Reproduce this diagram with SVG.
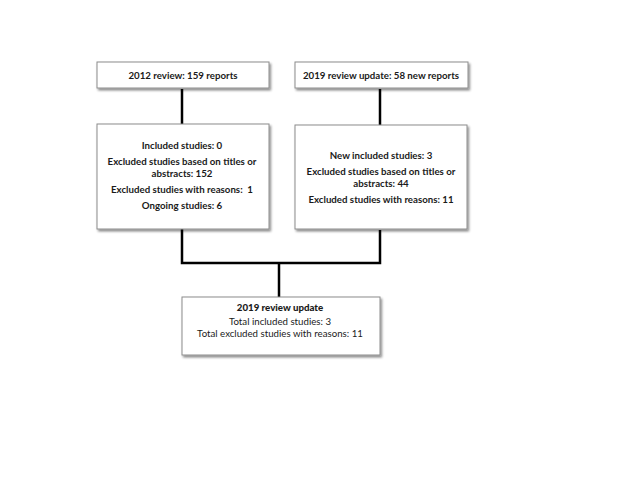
<svg xmlns="http://www.w3.org/2000/svg" width="640" height="480" viewBox="0 0 640 480">
<defs>
<filter id="sh" x="-10%" y="-10%" width="130%" height="140%">
<feDropShadow dx="1.5" dy="2" stdDeviation="1" flood-color="#000" flood-opacity="0.45"/>
</filter>
</defs>
<style>
.box{fill:#fff;stroke:#8c8c8c;stroke-width:1;filter:url(#sh)}
.t{font-family:Lato,"Liberation Sans",sans-serif;font-size:9.7px;font-weight:bold;fill:#1a1a1a;text-anchor:middle}
.r{font-weight:normal}
.b{font-weight:900}
.c{fill:none;stroke:#000;stroke-width:2.5}
</style>
<rect width="640" height="480" fill="#fff"/>
<g id="connectors">
<line class="c" x1="182" y1="89" x2="182" y2="124"/>
<line class="c" x1="380" y1="89" x2="380" y2="125"/>
<polyline class="c" points="182,229 182,263 380,263 380,230"/>
<line class="c" x1="279" y1="263" x2="279" y2="297"/>
</g>
<g id="n1">
<rect class="box" x="97" y="62" width="172" height="26"/>
<text class="t" x="183" y="79">2012 review: 159 reports</text>
</g>
<g id="n2">
<rect class="box" x="295" y="62" width="173" height="26"/>
<text class="t" x="381" y="79">2019 review update: 58 new reports</text>
</g>
<g id="n3">
<rect class="box" x="97" y="124" width="172" height="105"/>
<text class="t" x="182" y="149">Included studies: 0</text>
<text class="t" x="182" y="165">Excluded studies based on titles or</text>
<text class="t" x="182" y="177">abstracts: 152</text>
<text class="t" x="182" y="193" xml:space="preserve" style="white-space:pre">Excluded studies with reasons:  1</text>
<text class="t" x="182" y="209">Ongoing studies: 6</text>
</g>
<g id="n4">
<rect class="box" x="295" y="125" width="172" height="104"/>
<text class="t" x="381" y="159">New included studies: 3</text>
<text class="t" x="381" y="175">Excluded studies based on titles or</text>
<text class="t" x="381" y="187">abstracts: 44</text>
<text class="t" x="381" y="203">Excluded studies with reasons: 11</text>
</g>
<g id="n5">
<rect class="box" x="182" y="297" width="198" height="58"/>
<text class="t b" x="280" y="311">2019 review update</text>
<text class="t r" x="280" y="325">Total included studies: 3</text>
<text class="t r" x="280" y="337">Total excluded studies with reasons: 11</text>
</g>
</svg>
